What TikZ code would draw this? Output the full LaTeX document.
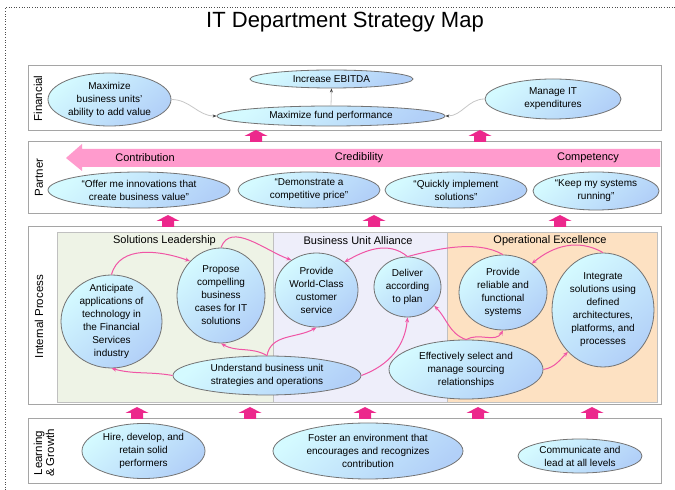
\documentclass[tikz,border=0pt]{standalone}
\usepackage{fontspec}
\setmainfont{Liberation Sans}
\usetikzlibrary{shapes.geometric,arrows.meta}

\definecolor{ellTop}{RGB}{212,250,255}
\definecolor{ellBot}{RGB}{178,208,248}
\definecolor{ellLine}{RGB}{115,115,115}
\definecolor{laneLine}{RGB}{165,165,165}
\definecolor{flowPink}{RGB}{240,85,165}
\definecolor{blockPink}{RGB}{236,40,140}
\definecolor{bandPink}{RGB}{255,155,205}
\definecolor{leadFill}{RGB}{238,243,230}
\definecolor{allyFill}{RGB}{238,238,250}
\definecolor{opsFill}{RGB}{253,225,194}

\tikzset{
  goal/.style={ellipse, draw=ellLine, line width=0.8pt, top color=ellTop, bottom color=ellBot, shading angle=40,
    inner sep=-6pt, align=center, font=\fontsize{10}{13}\selectfont},
  lane/.style={draw=laneLine, line width=1pt, fill=white},
  panel/.style={draw=laneLine!70, line width=0.6pt},
  lanelabel/.style={rotate=90, align=center, font=\fontsize{11.5}{12}\selectfont},
  paneltitle/.style={font=\fontsize{11}{13}\selectfont},
  flow/.style={draw=flowPink, line width=1pt, -{Stealth[length=5pt,width=4pt]}},
  feed/.style={draw=black!22, line width=0.8pt, -{Stealth[length=4pt,width=3pt,color=black!75]}}
}

\begin{document}
\begin{tikzpicture}[x=1pt,y=1pt]
\useasboundingbox (0,0) rectangle (675,490);
\draw[black!70, dotted, line width=0.6pt] (5.5,0) -- (5.5,483) -- (675,483);
\node[font=\fontsize{22}{26}\selectfont] (title) at (345,468) {IT Department Strategy Map};

\draw[lane] (28,359) rectangle (661,424);
\draw[lane] (28,276) rectangle (661,348);
\draw[lane] (28,85) rectangle (661,263);
\draw[lane] (28,6) rectangle (661,71);

\node[lanelabel] (fin) at (38,391.5) {Financial};
\node[lanelabel] (cust) at (39,312.5) {Partner};
\node[lanelabel] (proc) at (39,173.5) {Internal Process};
\node[lanelabel] (learn) at (44,37) {Learning\\\& Growth};

\foreach \x/\y in {256/348,480/348,168/263,374/263,560/263,137/71,250/71,365/71,478/71,592/71}
  \fill[blockPink] (\x-6,\y) -- (\x-6,\y+6) -- (\x-11.5,\y+6) -- (\x,\y+12) -- (\x+11.5,\y+6) -- (\x+6,\y+6) -- (\x+6,\y) -- cycle;

\node[goal, minimum width=123pt, minimum height=53pt] (addvalue) at (109.5,390.5) {Maximize\\business units'\\ability to add value};
\node[goal, minimum width=163pt, minimum height=18pt] (ebitda) at (331.5,411) {Increase EBITDA};
\node[goal, minimum width=228pt, minimum height=20pt] (fundperf) at (331,374) {Maximize fund performance};
\node[goal, minimum width=136pt, minimum height=40pt] (manageit) at (553,391) {Manage IT\\expenditures};
\draw[feed] (addvalue.east) to[out=0,in=180] (fundperf.west);
\draw[feed] (fundperf.north) -- (ebitda.south);
\draw[feed] (manageit.west) to[out=180,in=0] (fundperf.east);

\fill[bandPink] (66,332) -- (82,346) -- (82,341) -- (660,341) -- (660,323) -- (82,323) -- (82,319) -- cycle;
\node[paneltitle] (contrib) at (145,332) {Contribution};
\node[paneltitle] (cred) at (359,332) {Credibility};
\node[paneltitle] (compet) at (588,332) {Competency};
\node[goal, minimum width=182pt, minimum height=36pt] (innovate) at (139,300) {“Offer me innovations that\\create business value”};
\node[goal, minimum width=142pt, minimum height=36pt] (price) at (309,300) {“Demonstrate a\\competitive price”};
\node[goal, minimum width=142pt, minimum height=36pt] (quick) at (456,300) {“Quickly implement\\solutions”};
\node[goal, minimum width=126pt, minimum height=38pt] (running) at (596,299) {“Keep my systems\\running”};

\fill[leadFill] (57,88) rectangle (273,258);
\fill[allyFill] (273,88) rectangle (447,258);
\fill[opsFill] (447,88) rectangle (657,258);
\draw[panel] (57,88) rectangle (657,258);
\draw[panel] (273,88) -- (273,258);
\draw[panel] (447,88) -- (447,258);
\node[paneltitle] (leader) at (164.5,249) {Solutions Leadership};
\node[paneltitle] (alliance) at (358,249) {Business Unit Alliance};
\node[paneltitle] (opex) at (550,249) {Operational Excellence};

\node[goal, minimum width=101pt, minimum height=93pt] (anticipate) at (111.5,168.5) {Anticipate\\applications of\\technology in\\the Financial\\Services\\industry};
\node[goal, minimum width=88pt, minimum height=95pt] (propose) at (221,194.5) {Propose\\compelling\\business\\cases for IT\\solutions};
\node[goal, minimum width=83pt, minimum height=74pt] (worldclass) at (316.5,200) {Provide\\World-Class\\customer\\service};
\node[goal, minimum width=67pt, minimum height=60pt] (deliver) at (407.5,203) {Deliver\\according\\to plan};
\node[goal, minimum width=88pt, minimum height=75pt] (reliable) at (503,197.5) {Provide\\reliable and\\functional\\systems};
\node[goal, minimum width=102pt, minimum height=114pt] (integrate) at (603,180) {Integrate\\solutions using\\defined\\architectures,\\platforms, and\\processes};
\node[goal, minimum width=188pt, minimum height=39pt] (understand) at (267,114.5) {Understand business unit\\strategies and operations};
\node[goal, minimum width=154pt, minimum height=59pt] (sourcing) at (466,120.5) {Effectively select and\\manage sourcing\\relationships};

\draw[flow] (anticipate.north) to[out=75,in=160] (propose.132);
\draw[flow] (propose.north) to[out=70,in=160] (worldclass.130);
\draw[flow, -] (reliable.north) to[out=150,in=15,looseness=0.8] (deliver.north);
\draw[flow] (deliver.north) to[out=140,in=30] (worldclass.45);
\draw[flow] (integrate.north) to[out=150,in=40] (reliable.45);
\draw[flow] (understand.north) to[out=150,in=-30] (propose.south);
\draw[flow] (understand.north) to[out=80,in=-150] (worldclass.south);
\draw[flow] (understand.west) to[out=170,in=-15] (anticipate.south);
\draw[flow] (understand.east) to[out=20,in=-95] (deliver.south);
\draw[flow] (sourcing.north) to[out=160,in=-45] (deliver.-35);
\draw[flow] (sourcing.north) to[out=30,in=-120] (reliable.south);
\draw[flow] (sourcing.east) to[out=10,in=-135] (integrate.230);

\node[goal, minimum width=123pt, minimum height=55pt] (hire) at (143.5,39) {Hire, develop, and\\retain solid\\performers};
\node[goal, minimum width=190pt, minimum height=56pt] (foster) at (368,39) {Foster an environment that\\encourages and recognizes\\contribution};
\node[goal, minimum width=124pt, minimum height=34pt] (communicate) at (580,34) {Communicate and\\lead at all levels};
\end{tikzpicture}
\end{document}
